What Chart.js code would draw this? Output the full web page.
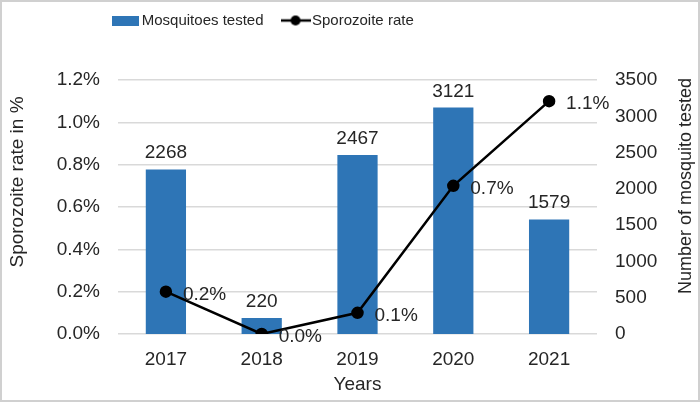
<!DOCTYPE html>
<html>
<head>
<meta charset="utf-8">
<script src="https://cdn.jsdelivr.net/npm/chart.js@4.4.1/dist/chart.umd.min.js"></script>
<style>
  html, body { margin: 0; padding: 0; background: #fff; }
  #wrap { width: 700px; height: 402px; }
</style>
</head>
<body>
<div id="wrap"><canvas id="chart" width="700" height="402"></canvas></div>
<script>
// ===== data =====
const years = ['2017', '2018', '2019', '2020', '2021'];
const mosquitoesTested = [2268, 220, 2467, 3121, 1579];
const sporozoiteRate = [0.2, 0.0, 0.1, 0.7, 1.1]; // in %
const rateAxis = { max: 1.2, step: 0.2 };
const countAxis = { max: 3500, step: 500 };

const BLUE = '#2e75b6';
const TEXT = '#262626';
const FONT = "'Liberation Sans', Arial, sans-serif";

// legend icons
const barIcon = document.createElement('canvas');
barIcon.width = 27; barIcon.height = 10;
let g = barIcon.getContext('2d');
g.fillStyle = BLUE;
g.fillRect(0, 0, 27, 10);

const lineIcon = document.createElement('canvas');
lineIcon.width = 30; lineIcon.height = 12;
g = lineIcon.getContext('2d');
g.strokeStyle = '#000'; g.lineWidth = 2.5;
g.beginPath(); g.moveTo(0, 6); g.lineTo(30, 6); g.stroke();
g.fillStyle = '#000';
g.beginPath(); g.arc(15, 6, 5, 0, Math.PI * 2); g.fill();

// ===== plugins =====
const frame = {
  id: 'frame',
  beforeInit(chart) {
    const fit = chart.legend.fit;
    chart.legend.fit = function () {
      fit.call(this);
      this.height = 80;
    };
  },
  afterLayout(chart) {
    const lg = chart.legend;
    lg.left -= 85; lg.right -= 85;
    lg.top -= 10;
  },
  beforeDraw(chart) {
    const c = chart.ctx;
    c.save();
    c.fillStyle = '#fff';
    c.fillRect(0, 0, chart.width, chart.height);
    c.restore();
  },
  afterDraw(chart) {
    const c = chart.ctx;
    c.save();
    c.strokeStyle = '#d0d0d0';
    c.lineWidth = 2;
    c.strokeRect(1, 1, chart.width - 2, chart.height - 2);
    // axis titles (both read bottom to top)
    c.fillStyle = TEXT;
    c.font = '19px ' + FONT;
    c.textAlign = 'center';
    c.textBaseline = 'middle';
    c.translate(18, 182);
    c.rotate(-Math.PI / 2);
    c.fillText('Sporozoite rate in %', 0, 0);
    c.restore();
    c.save();
    c.fillStyle = TEXT;
    c.font = '18px ' + FONT;
    c.textAlign = 'center';
    c.textBaseline = 'middle';
    c.translate(686, 186);
    c.rotate(-Math.PI / 2);
    c.fillText('Number of mosquito tested', 0, 0);
    c.restore();
  },
  afterDatasetsDraw(chart) {
    const c = chart.ctx;
    c.save();
    c.fillStyle = TEXT;
    c.font = '19px ' + FONT;
    // bar labels
    c.textAlign = 'center';
    c.textBaseline = 'alphabetic';
    chart.getDatasetMeta(1).data.forEach((el, i) => {
      c.fillText(String(mosquitoesTested[i]), el.x, el.y - 11);
    });
    // line labels
    c.textAlign = 'left';
    c.textBaseline = 'middle';
    chart.getDatasetMeta(0).data.forEach((el, i) => {
      c.fillText(sporozoiteRate[i].toFixed(1) + '%', el.x + 17, el.y + 3);
    });
    c.restore();
  }
};

new Chart(document.getElementById('chart'), {
  data: {
    labels: years,
    datasets: [
      {
        type: 'line',
        label: 'Sporozoite rate',
        data: sporozoiteRate,
        yAxisID: 'y',
        borderColor: '#000',
        backgroundColor: '#000',
        borderWidth: 2.5,
        pointRadius: 5,
        pointHoverRadius: 5,
        tension: 0,
        order: 0
      },
      {
        type: 'bar',
        label: 'Mosquitoes tested',
        data: mosquitoesTested,
        yAxisID: 'y1',
        backgroundColor: BLUE,
        categoryPercentage: 1,
        barPercentage: 0.42,
        order: 1
      }
    ]
  },
  options: {
    responsive: false,
    animation: false,
    layout: { padding: 0 },
    plugins: {
      legend: {
        position: 'top',
        labels: {
          color: TEXT,
          font: { family: FONT, size: 15 },
          usePointStyle: true,
          pointStyleWidth: 18,
          padding: 23,
          generateLabels: () => [
            { text: 'Mosquitoes tested', pointStyle: barIcon, fontColor: TEXT, lineWidth: 0, datasetIndex: 1, hidden: false },
            { text: 'Sporozoite rate', pointStyle: lineIcon, fontColor: TEXT, lineWidth: 0, datasetIndex: 0, hidden: false }
          ]
        }
      },
      tooltip: { enabled: false }
    },
    scales: {
      x: {
        grid: { display: false },
        border: { display: false },
        ticks: { color: TEXT, font: { family: FONT, size: 19 }, padding: 6 },
        title: {
          display: true,
          text: 'Years',
          color: TEXT,
          font: { family: FONT, size: 19 },
          padding: { top: 0, bottom: 6 }
        },
        afterFit(s) { s.height = 68; }
      },
      y: {
        position: 'left',
        min: 0,
        max: rateAxis.max,
        grid: { color: '#d9d9d9', lineWidth: 1.5, drawTicks: false },
        border: { display: false },
        ticks: {
          stepSize: rateAxis.step,
          color: TEXT,
          font: { family: FONT, size: 19 },
          padding: 18,
          callback: v => v.toFixed(1) + '%'
        },
        afterFit(s) { s.width = 118; }
      },
      y1: {
        position: 'right',
        min: 0,
        max: countAxis.max,
        grid: { display: false, drawTicks: false },
        border: { display: false },
        ticks: {
          stepSize: countAxis.step,
          color: TEXT,
          font: { family: FONT, size: 19 },
          padding: 18,
          callback: v => String(v)
        },
        afterFit(s) { s.width = 103; }
      }
    }
  },
  plugins: [frame]
});
</script>
</body>
</html>
